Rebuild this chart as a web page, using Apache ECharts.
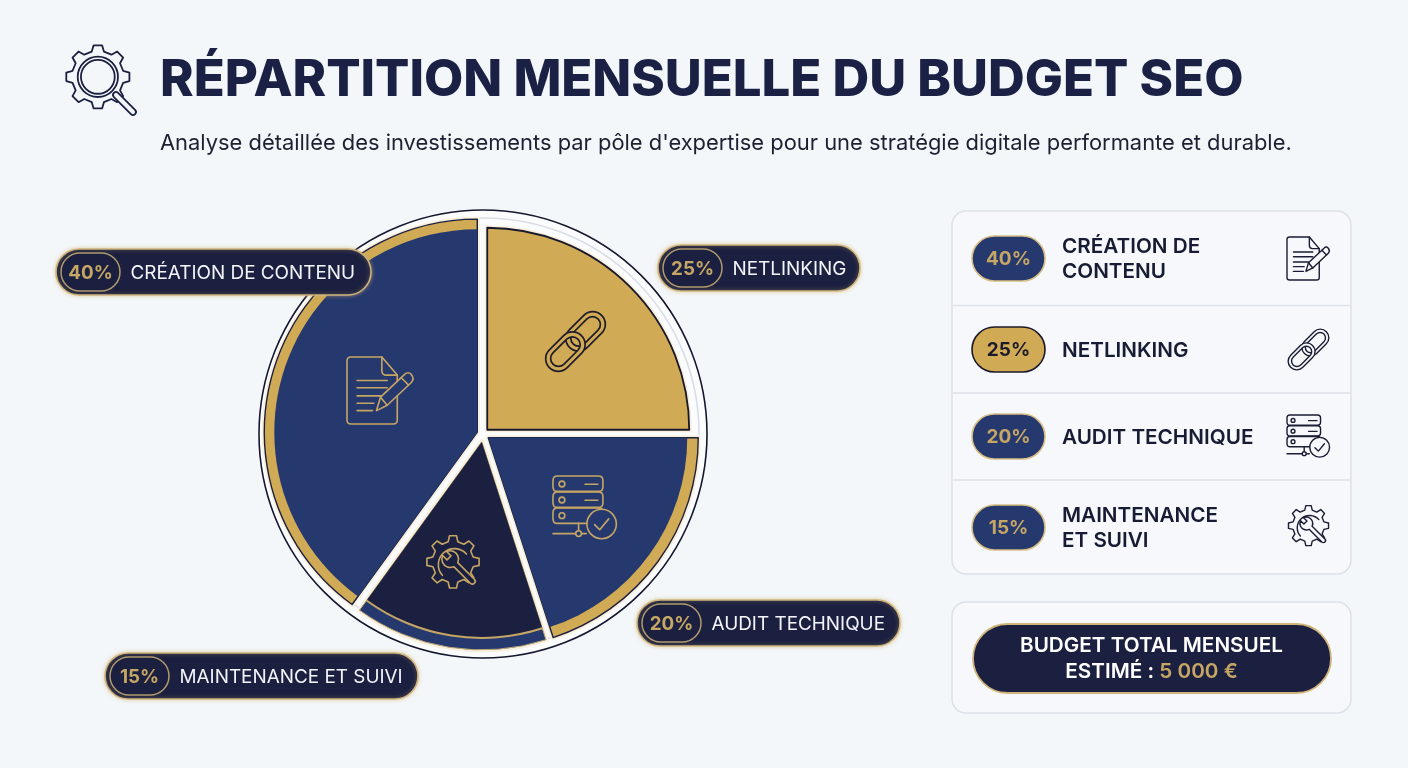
<!DOCTYPE html>
<html lang="fr">
<head>
<meta charset="utf-8">
<title>Répartition mensuelle du budget SEO</title>
<style>
  html, body { margin: 0; padding: 0; background: #f4f7fa; }
  #chart { width: 1408px; height: 768px; }
</style>
<script src="https://cdn.jsdelivr.net/npm/echarts@6/dist/echarts.min.js"></script>
</head>
<body>
<div id="chart"></div>
<script>
// Budget shares, listed clockwise starting from the lower-left boundary of the pie
const categories = ['CRÉATION DE CONTENU', 'NETLINKING', 'AUDIT TECHNIQUE', 'MAINTENANCE ET SUIVI'];
const shares = [40, 25, 20, 15];
const listLabels = [['CRÉATION DE', 'CONTENU'], ['NETLINKING'], ['AUDIT TECHNIQUE'], ['MAINTENANCE', 'ET SUIVI']];
const titleText = 'RÉPARTITION MENSUELLE DU BUDGET SEO';
const subtitleText = "Analyse détaillée des investissements par pôle d'expertise pour une stratégie digitale performante et durable.";
const totalLines = ['BUDGET TOTAL MENSUEL', 'ESTIMÉ : ', '5 000 €'];

const INK = '#1b2040', NAVY = '#26396f', GOLD = '#d1aa55', TAN = '#c6a664', CREAM = '#f8efdc', PAPER = '#f4f7fa';
const FONT = 'Inter, "Noto Sans", sans-serif';
const CX = 483, CY = 434;

// Each slice is a stack of sectors; every layer is a pie over the same shares
const sliceStacks = [
  { offset: 6, layers: [
    { r: 213, fill: GOLD, border: CREAM, width: 5 },
    { r: 213, fill: GOLD, border: INK, width: 1.4 },
    { r: 203, fill: NAVY, border: NAVY, width: 0 } ] },
  { offset: 6, layers: [
    { r: 202, fill: GOLD, border: CREAM, width: 5 },
    { r: 202, fill: GOLD, border: '#17182c', width: 1.8 } ] },
  { offset: 6.5, layers: [
    { r: 210, fill: GOLD, border: CREAM, width: 5 },
    { r: 210, fill: GOLD, border: INK, width: 1.4 },
    { r: 199, fill: NAVY, border: NAVY, width: 0 } ] },
  { offset: 8, layers: [
    { r: 208, fill: NAVY, border: CREAM, width: 5 },
    { r: 208, fill: NAVY, border: '#b9a679', width: 1 },
    { r: 197, fill: TAN, border: TAN, width: 0 },
    { r: 195, fill: INK, border: INK, width: 0 } ] }
];

const hidden = { color: 'transparent', borderWidth: 0, opacity: 0 };
const pieSeries = [];
sliceStacks.forEach((stack, i) => {
  stack.layers.forEach((layer, l) => {
    const shown = { color: layer.fill, borderColor: layer.border, borderWidth: layer.width, borderJoin: 'round', opacity: 1 };
    pieSeries.push({
      type: 'pie',
      name: categories[i],
      id: 'slice' + i + 'layer' + l,
      z: 2 + i + l * 0.1,
      center: [CX, CY],
      radius: [0, layer.r],
      startAngle: 234,
      clockwise: true,
      silent: true,
      animation: false,
      selectedMode: 'multiple',
      selectedOffset: stack.offset,
      label: { show: false },
      labelLine: { show: false },
      emphasis: { disabled: true },
      data: shares.map((value, j) => {
        const style = j === i ? shown : hidden;
        return { name: categories[j], value, selected: true, itemStyle: style, select: { itemStyle: style } };
      })
    });
  });
});

// --- line icons, drawn in a 100 x 100 box ---
function capsule(cx, cy, hl, hw) {
  return `M${cx - hl + hw} ${cy - hw}L${cx + hl - hw} ${cy - hw}A${hw} ${hw} 0 0 1 ${cx + hl - hw} ${cy + hw}` +
         `L${cx - hl + hw} ${cy + hw}A${hw} ${hw} 0 0 1 ${cx - hl + hw} ${cy - hw}Z`;
}
// Capsule with a hole: the inner outline runs the other way round
function capsuleRing(hl, hw, hl2, hw2) {
  return capsule(0, 0, hl, hw) +
    `M${-hl2 + hw2} ${-hw2}A${hw2} ${hw2} 0 0 0 ${-hl2 + hw2} ${hw2}L${hl2 - hw2} ${hw2}` +
    `A${hw2} ${hw2} 0 0 0 ${hl2 - hw2} ${-hw2}Z`;
}
function circlePath(cx, cy, r) {
  return `M${cx - r} ${cy}A${r} ${r} 0 1 1 ${cx + r} ${cy}A${r} ${r} 0 1 1 ${cx - r} ${cy}Z`;
}
function gearPath(cx, cy, ro, ri, teeth) {
  let d = '';
  const step = Math.PI * 2 / teeth;
  for (let t = 0; t < teeth; t++) {
    const a = t * step - Math.PI / 2;
    const pts = [[ri, a - step * 0.30], [ro, a - step * 0.17], [ro, a + step * 0.17], [ri, a + step * 0.30]];
    pts.forEach((p, k) => {
      const x = (cx + p[0] * Math.cos(p[1])).toFixed(2), y = (cy + p[0] * Math.sin(p[1])).toFixed(2);
      d += (t === 0 && k === 0 ? 'M' : 'L') + x + ' ' + y;
    });
  }
  return d + 'Z';
}
const WRENCH = 'M-14.1 -5A15 15 0 0 1 14.1 -5L56 -5A5 5 0 0 1 56 5L14.1 5A15 15 0 0 1 -14.1 5L-3 5L-3 -5Z';

// Graphic elements only take named shapes, so each outline becomes a registered shape
const shapeNames = new Map();
function shapeType(d) {
  if (!shapeNames.has(d)) {
    const name = 'iconPart' + shapeNames.size;
    echarts.graphic.registerShape(name, echarts.graphic.extendPath(d, {}));
    shapeNames.set(d, name);
  }
  return shapeNames.get(d);
}

function iconParts(kind, fillBg) {
  const line = d => ({ d });
  const solid = d => ({ d, fill: fillBg });
  if (kind === 'doc') return [
    line('M6 0L52 0L75 27L75 94Q75 100 69 100L6 100Q0 100 0 94L0 6Q0 0 6 0Z'),
    line('M52 0L52 20Q52 27 59 27L75 27'),
    line('M15 35L60 35M15 46L60 46M15 58L50 58M15 69L40 69M15 80L38 80'),
    solid('M44 80L50 60L86 26Q91 21 96 26Q101 32 96 38L60 72Z'),
    line('M50 60L60 72M81 31L92 42')
  ];
  if (kind === 'chain') return [
    { d: capsuleRing(36, 20, 28, 12.5), at: [66, 34], rot: Math.PI / 4, fill: fillBg },
    { d: capsuleRing(36, 20, 28, 12.5), at: [34, 66], rot: Math.PI / 4, fill: fillBg }
  ];
  if (kind === 'server') return [
    line('M7 0L71 0Q78 0 78 7L78 17Q78 24 71 24L7 24Q0 24 0 17L0 7Q0 0 7 0Z'),
    line('M7 25L71 25Q78 25 78 32L78 42Q78 49 71 49L7 49Q0 49 0 42L0 32Q0 25 7 25Z'),
    line('M7 50L71 50Q78 50 78 57L78 67Q78 74 71 74L7 74Q0 74 0 67L0 57Q0 50 7 50Z'),
    line(circlePath(14, 12.5, 4.5)), line(circlePath(14, 37.5, 4.5)), line(circlePath(14, 62, 4.5)),
    line('M50 13L70 13M50 38L70 38'),
    line('M40 74L40 86M0 90L52 90'),
    solid(circlePath(40, 90, 4.5)),
    solid(circlePath(76, 75, 23)),
    line('M65 76L73 84L87 67')
  ];
  if (kind === 'wrench') return [
    line(gearPath(50, 48, 47, 37, 8)),
    line('M31 72A28 28 0 1 1 74 34'),
    { d: WRENCH, at: [45, 43], rot: -Math.PI / 4, fill: fillBg }
  ];
  // magnifying glass on a gear
  return [
    line(gearPath(49, 49, 49, 40, 8)),
    { d: circlePath(49, 49, 31), fill: fillBg },
    line(circlePath(49, 49, 26)),
    { d: capsule(0, 0, 23, 4.5), at: [90, 90], rot: -Math.PI / 4, fill: fillBg }
  ];
}

function icon(kind, x, y, size, color, lw, fillBg) {
  const s = size / 100;
  return {
    type: 'group', x, y, scaleX: s, scaleY: s, z: 20,
    children: iconParts(kind, fillBg).map(p => ({
      type: shapeType(p.d),
      x: p.at ? p.at[0] : 0, y: p.at ? p.at[1] : 0,
      rotation: p.rot || 0,
      z: 20,
      shape: {},
      style: { fill: p.fill || 'none', stroke: color, lineWidth: lw / s, lineJoin: 'round', lineCap: 'round' },
      silent: true
    }))
  };
}

function text(str, x, y, font, fill, align) {
  return { type: 'text', x, y, z: 30, silent: true,
    style: { text: str, font, fill, textAlign: align || 'left', textVerticalAlign: 'middle' } };
}

// Callout pill next to a slice
function callout(x, y, w, i) {
  const h = 46;
  return [
    { type: 'rect', z: 25, silent: true, shape: { x, y, width: w, height: h, r: 23 },
      style: { fill: INK, stroke: '#cdb27c', lineWidth: 1.6, shadowBlur: 4, shadowColor: 'rgba(214,178,104,0.55)' } },
    { type: 'rect', z: 26, silent: true, shape: { x: x + 5, y: y + 4, width: 59, height: 38, r: 19 },
      style: { fill: INK, stroke: '#b19a6c', lineWidth: 1.5 } },
    text(shares[i] + '%', x + 34.5, y + 24, '700 18.8px ' + FONT, TAN, 'center'),
    text(categories[i], x + 74.5, y + 24, '400 18.9px ' + FONT, '#f4f5fa')
  ];
}

const graphics = [
  // Frame around the pie
  { type: 'circle', z: 0, silent: true, shape: { cx: CX, cy: CY, r: 224 }, style: { fill: '#fbfcfe', stroke: '#14172e', lineWidth: 1.6 } },
  { type: 'circle', z: 0, silent: true, shape: { cx: CX + 1, cy: CY - 1, r: 215 }, style: { fill: 'none', stroke: '#d9dde5', lineWidth: 1.6 } },
  // Icons sitting on the slices
  icon('doc', 347, 357, 67, TAN, 1.6, NAVY),
  icon('chain', 544, 310, 63, '#1e1b2a', 1.7, GOLD),
  icon('server', 553, 476, 64, TAN, 1.6, NAVY),
  icon('wrench', 425, 535, 56, TAN, 1.6, INK),
  // Header icon
  icon('glass', 66, 45, 65, INK, 1.8, PAPER),
  // Callouts
  ...callout(56, 249, 315, 0),
  ...callout(658, 245, 202, 1),
  ...callout(637, 600, 263, 2),
  ...callout(105, 653, 313, 3),
  // Legend card
  { type: 'rect', z: 1, silent: true, shape: { x: 952, y: 211, width: 399, height: 363, r: 14 },
    style: { fill: '#f6f8fc', stroke: '#dde1e8', lineWidth: 1.5 } }
];

const rowCentres = [258.5, 349.5, 436.5, 527.5];
[305.5, 393, 480].forEach(y => graphics.push({ type: 'line', z: 2, silent: true,
  shape: { x1: 953, y1: y, x2: 1350, y2: y }, style: { stroke: '#dde1e8', lineWidth: 1.4 } }));

rowCentres.forEach((y, i) => {
  const accent = i === 1;
  graphics.push({ type: 'rect', z: 25, silent: true, shape: { x: 972, y: y - 22.5, width: 73, height: 45, r: 22.5 },
    style: { fill: accent ? GOLD : NAVY, stroke: accent ? '#1b1a2c' : '#d8bd85', lineWidth: 1.6 } });
  graphics.push(text(shares[i] + '%', 1008.5, y + 0.5, '700 19px ' + FONT, accent ? '#1b1a2c' : TAN, 'center'));
  const lines = listLabels[i];
  lines.forEach((str, k) => graphics.push(text(str, 1062, y + 0.8 + (k - (lines.length - 1) / 2) * 25.5, '600 20.7px ' + FONT, '#171b33')));
});
graphics.push(
  icon('doc', 1287, 237, 43, '#1a1d33', 1.4, '#f6f8fc'),
  icon('chain', 1287, 328, 43, '#1a1d33', 1.4, '#f6f8fc'),
  icon('server', 1287, 415, 43, '#1a1d33', 1.4, '#f6f8fc'),
  icon('wrench', 1287, 505, 43, '#1a1d33', 1.4, '#f6f8fc')
);

// Total budget card
graphics.push(
  { type: 'rect', z: 1, silent: true, shape: { x: 952, y: 602, width: 399, height: 111, r: 14 },
    style: { fill: '#f6f8fc', stroke: '#dde1e8', lineWidth: 1.5 } },
  { type: 'rect', z: 25, silent: true, shape: { x: 973, y: 624, width: 358, height: 69, r: 34.5 },
    style: { fill: INK, stroke: '#d0b47a', lineWidth: 1.8 } },
  text(totalLines[0], 1151.5, 645.5, '600 20.7px ' + FONT, '#ffffff', 'center'),
  { type: 'text', x: 1151.5, y: 671.5, z: 30, silent: true,
    style: { text: '{w|' + totalLines[1] + '}{g|' + totalLines[2] + '}', textAlign: 'center', textVerticalAlign: 'middle',
      rich: { w: { font: '600 20.7px ' + FONT, fill: '#ffffff', textFill: '#ffffff' },
              g: { font: '600 20.7px ' + FONT, fill: TAN, textFill: TAN } } } }
);

const chart = echarts.init(document.getElementById('chart'), null, { renderer: 'canvas' });
chart.setOption({
  animation: false,
  backgroundColor: PAPER,
  title: [
    { text: titleText, left: 160, top: 51, padding: 0, textStyle: { fontFamily: 'Inter', fontWeight: 800, fontSize: 50.85, color: '#1a2145', lineHeight: 60 } },
    { text: subtitleText, left: 160, top: 130, padding: 0, textStyle: { fontFamily: 'Inter', fontWeight: 400, fontSize: 21.9, color: '#1d2030', lineHeight: 26 } }
  ],
  series: pieSeries,
  graphic: { elements: graphics }
});
</script>
</body>
</html>
